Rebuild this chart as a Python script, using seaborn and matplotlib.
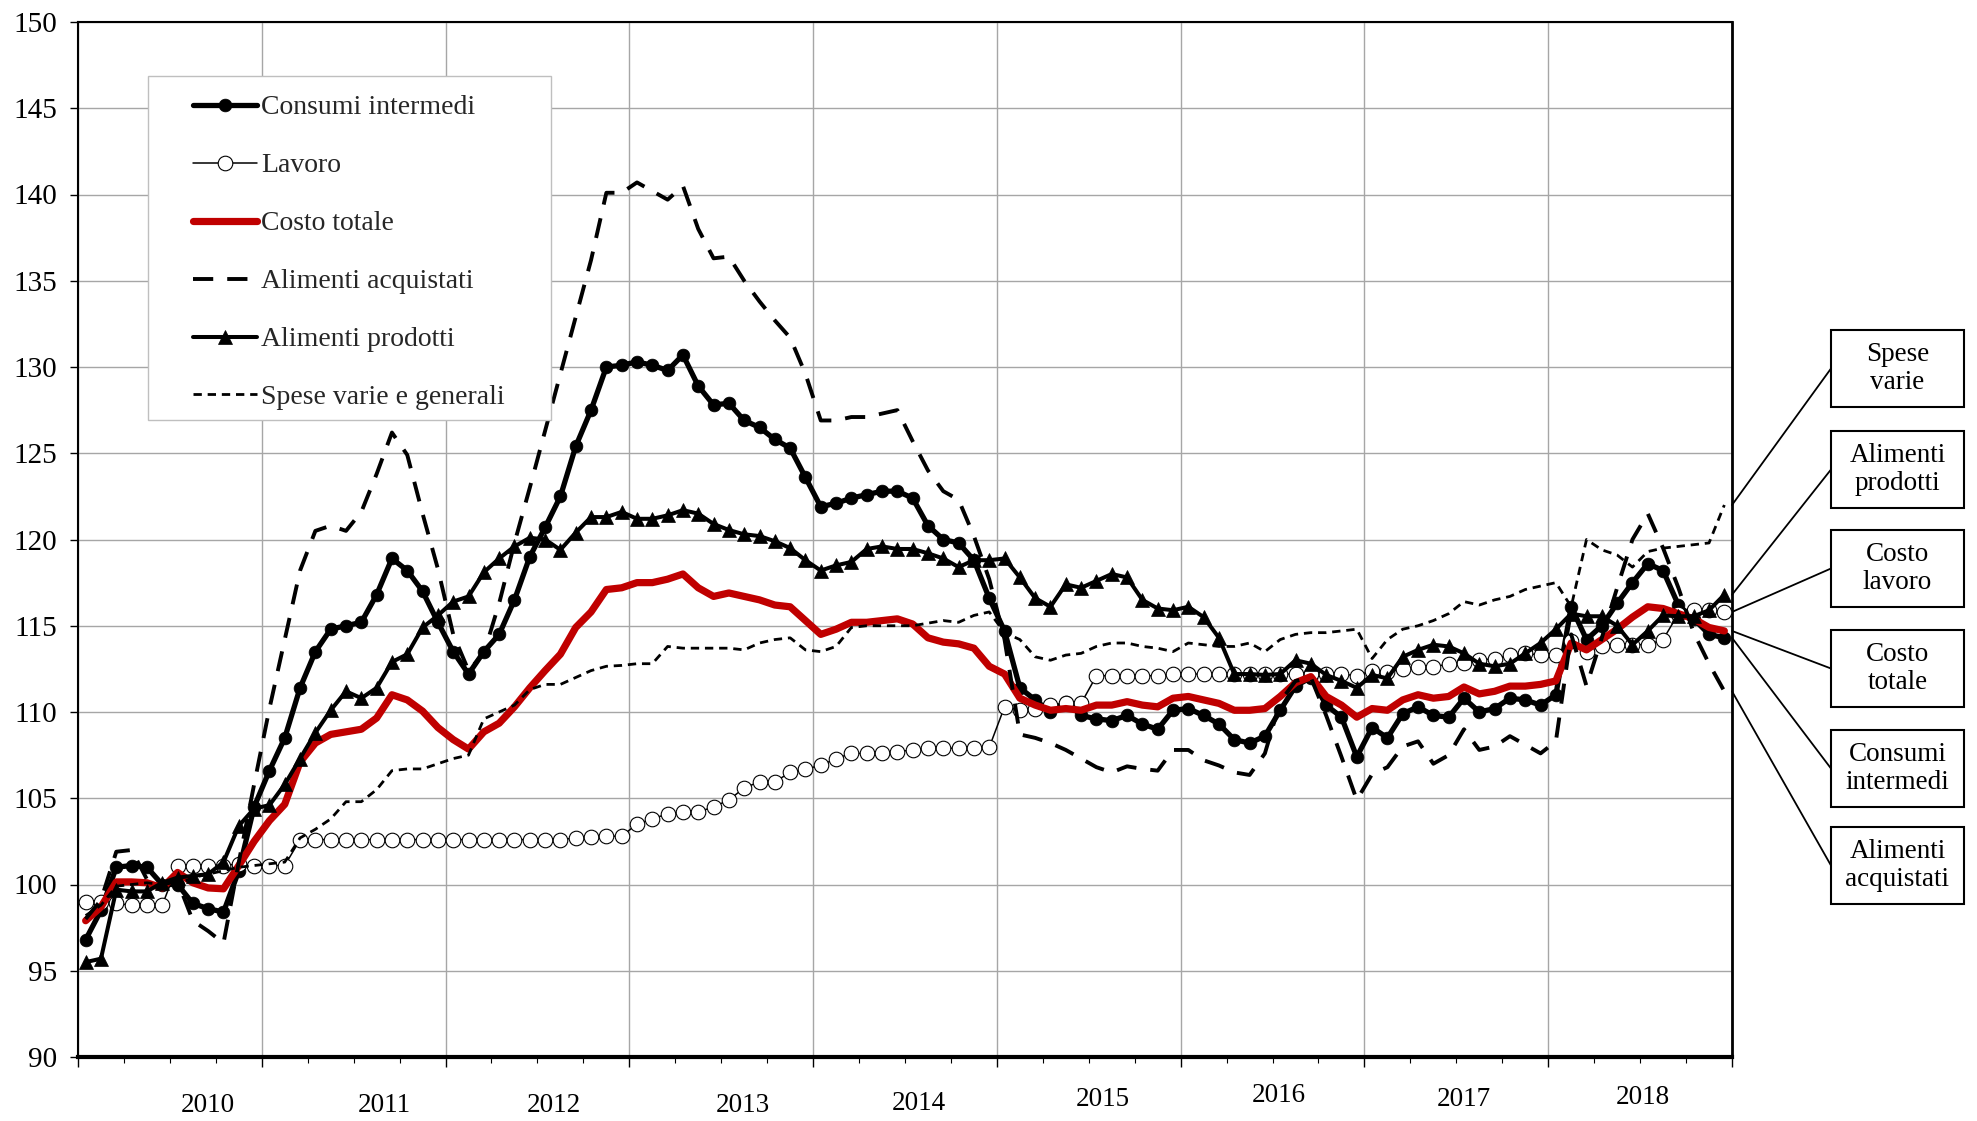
import numpy as np
import pandas as pd
import matplotlib
matplotlib.use("Agg")
import matplotlib.pyplot as plt
from matplotlib.patches import Rectangle
import seaborn as sns

# =========================
# DATA (indici mensili, gen 2010 - dic 2018)
# =========================
years = [2010, 2011, 2012, 2013, 2014, 2015, 2016, 2017, 2018]
n_months = 12 * len(years)
months = np.arange(n_months)

consumi_intermedi = [
    96.8, 98.5, 101.0, 101.1, 101.0, 100.0, 100.0, 98.9, 98.6, 98.4, 100.8, 104.5,
    106.6, 108.5, 111.4, 113.5, 114.8, 115.0, 115.2, 116.8, 118.9, 118.2, 117.0, 115.2,
    113.5, 112.2, 113.5, 114.5, 116.5, 119.0, 120.7, 122.5, 125.4, 127.5, 130.0, 130.1,
    130.3, 130.1, 129.8, 130.7, 128.9, 127.8, 127.9, 126.9, 126.5, 125.8, 125.3, 123.6,
    121.9, 122.1, 122.4, 122.6, 122.8, 122.8, 122.4, 120.8, 120.0, 119.8, 118.8, 116.6,
    114.7, 111.4, 110.7, 110.0, 110.6, 109.8, 109.6, 109.5, 109.8, 109.3, 109.0, 110.1,
    110.2, 109.8, 109.3, 108.4, 108.2, 108.6, 110.1, 111.5, 112.0, 110.4, 109.7, 107.4,
    109.1, 108.5, 109.9, 110.3, 109.8, 109.7, 110.8, 110.0, 110.2, 110.8, 110.7, 110.4,
    111.0, 116.1, 114.2, 115.0, 116.3, 117.5, 118.6, 118.2, 116.2, 115.4, 114.5, 114.3,
]
lavoro = [
    99.0, 99.0, 98.9, 98.8, 98.8, 98.8, 101.1, 101.1, 101.1, 101.1, 101.2, 101.1,
    101.1, 101.1, 102.6, 102.6, 102.6, 102.6, 102.6, 102.6, 102.6, 102.6, 102.6, 102.6,
    102.6, 102.6, 102.6, 102.6, 102.6, 102.6, 102.6, 102.6, 102.7, 102.75, 102.8, 102.8,
    103.5, 103.8, 104.1, 104.2, 104.2, 104.5, 104.9, 105.6, 105.95, 105.95, 106.5, 106.7,
    106.9, 107.3, 107.6, 107.6, 107.6, 107.7, 107.8, 107.9, 107.9, 107.9, 107.9, 107.95,
    110.3, 110.1, 110.2, 110.4, 110.5, 110.5, 112.1, 112.1, 112.1, 112.1, 112.1, 112.2,
    112.2, 112.2, 112.2, 112.2, 112.2, 112.2, 112.2, 112.2, 112.2, 112.2, 112.2, 112.1,
    112.4, 112.3, 112.5, 112.6, 112.6, 112.8, 112.85, 113.0, 113.1, 113.3, 113.4, 113.3,
    113.3, 114.1, 113.5, 113.8, 113.9, 113.9, 113.9, 114.2, 115.7, 115.9, 115.9, 115.8,
]
costo_totale = [
    97.9, 98.7, 100.15, 100.15, 100.1, 99.8, 100.7, 100.1, 99.8, 99.75, 101.1, 102.5,
    103.7, 104.65, 107.1, 108.2, 108.7, 108.85, 109.0, 109.65, 111.0, 110.7, 110.05, 109.1,
    108.4, 107.85, 108.85, 109.35, 110.3, 111.4, 112.4, 113.35, 114.9, 115.8, 117.1, 117.2,
    117.5, 117.5, 117.7, 118.0, 117.2, 116.7, 116.9, 116.7, 116.5, 116.2, 116.1, 115.3,
    114.5, 114.8, 115.2, 115.2, 115.3, 115.4, 115.1, 114.3, 114.05, 113.95, 113.7, 112.65,
    112.2, 110.8, 110.4, 110.1, 110.2, 110.1, 110.4, 110.4, 110.6, 110.4, 110.3, 110.8,
    110.9, 110.7, 110.5, 110.1, 110.1, 110.2, 110.9, 111.7, 112.05, 110.9, 110.4, 109.7,
    110.2, 110.1, 110.7, 111.0, 110.8, 110.9, 111.45, 111.05, 111.2, 111.5, 111.5, 111.6,
    111.8, 114.0, 113.6, 114.2, 114.8, 115.5, 116.1, 116.0, 115.7, 115.4, 114.9, 114.7,
]
alimenti_acquistati = [
    98.0, 99.1, 101.9, 102.0, 100.3, 100.0, 100.2, 97.9, 97.3, 96.6, 101.3, 105.8,
    110.2, 114.2, 118.2, 120.5, 120.8, 120.5, 121.6, 123.8, 126.2, 124.9, 121.5, 118.3,
    114.5, 112.4, 113.4, 116.3, 119.8, 123.0, 126.3, 129.6, 132.9, 136.2, 140.1, 140.1,
    140.7, 140.2, 139.7, 140.5, 138.0, 136.3, 136.4, 135.0, 133.8, 132.7, 131.7, 129.6,
    126.9, 126.9, 127.1, 127.1, 127.3, 127.5, 125.7, 124.0, 122.8, 122.3, 120.2, 117.7,
    114.2, 108.7, 108.5, 108.2, 107.8, 107.3, 106.8, 106.5, 106.85, 106.7, 106.6, 107.8,
    107.8, 107.2, 106.9, 106.5, 106.35, 107.6, 110.6, 111.8, 112.0, 109.8, 107.4, 104.9,
    106.4, 106.8, 108.0, 108.3, 107.0, 107.5, 109.0, 107.8, 108.0, 108.6, 108.1, 107.6,
    108.3, 114.5, 111.5, 114.3, 117.2, 120.0, 121.5, 119.5, 117.2, 114.6, 112.8, 111.2,
]
alimenti_prodotti = [
    95.5, 95.7, 99.7, 99.6, 99.6, 100.1, 100.4, 100.5, 100.6, 101.3, 103.4, 104.4,
    104.6, 105.8, 107.3, 108.8, 110.1, 111.2, 110.8, 111.4, 112.9, 113.35, 114.9, 115.6,
    116.4, 116.7, 118.1, 118.9, 119.6, 120.1, 120.0, 119.4, 120.4, 121.3, 121.3, 121.6,
    121.2, 121.2, 121.4, 121.7, 121.5, 120.9, 120.55, 120.3, 120.2, 119.9, 119.5, 118.8,
    118.2, 118.5, 118.7, 119.45, 119.6, 119.45, 119.45, 119.2, 118.9, 118.4, 118.8, 118.8,
    118.9, 117.8, 116.6, 116.1, 117.4, 117.2, 117.6, 118.0, 117.8, 116.5, 116.0, 115.9,
    116.1, 115.5, 114.3, 112.2, 112.2, 112.15, 112.2, 113.0, 112.8, 112.15, 111.8, 111.4,
    112.15, 111.95, 113.2, 113.6, 113.9, 113.8, 113.4, 112.8, 112.65, 112.8, 113.4, 114.0,
    114.8, 115.7, 115.55, 115.55, 115.0, 113.9, 114.7, 115.6, 115.55, 115.55, 115.9, 116.8,
]
spese_varie = [
    98.2, 98.8, 99.9, 100.0, 100.1, 100.0, 100.0, 100.4, 100.6, 100.8, 101.0, 101.1,
    101.2, 101.3, 102.7, 103.2, 103.8, 104.8, 104.8, 105.5, 106.6, 106.7, 106.7, 107.0,
    107.3, 107.5, 109.6, 110.0, 110.4, 111.3, 111.6, 111.6, 112.0, 112.4, 112.65, 112.7,
    112.8, 112.8, 113.8, 113.7, 113.7, 113.7, 113.7, 113.6, 114.0, 114.2, 114.3, 113.6,
    113.5, 113.8, 114.9, 115.0, 115.0, 115.0, 115.0, 115.15, 115.3, 115.2, 115.6, 115.8,
    114.6, 114.2, 113.2, 113.0, 113.3, 113.4, 113.8, 114.0, 114.0, 113.8, 113.7, 113.5,
    114.0, 113.9, 113.8, 113.8, 114.0, 113.5, 114.2, 114.5, 114.6, 114.6, 114.7, 114.8,
    113.1, 114.2, 114.8, 115.0, 115.3, 115.7, 116.4, 116.2, 116.5, 116.7, 117.1, 117.3,
    117.5, 116.1, 120.0, 119.4, 119.1, 118.4, 119.3, 119.5, 119.6, 119.7, 119.8, 122.0,
]

series_names = ["Consumi intermedi", "Lavoro", "Costo totale",
                "Alimenti acquistati", "Alimenti prodotti", "Spese varie e generali"]
series_values = [consumi_intermedi, lavoro, costo_totale,
                 alimenti_acquistati, alimenti_prodotti, spese_varie]

right_labels = ["Spese\nvarie", "Alimenti\nprodotti", "Costo\nlavoro",
                "Costo\ntotale", "Consumi\nintermedi", "Alimenti\nacquistati"]
right_series = [spese_varie, alimenti_prodotti, lavoro,
                costo_totale, consumi_intermedi, alimenti_acquistati]

# =========================
# CONFIG (layout in pixel)
# =========================
W, H = 1977, 1121
AX_L, AX_R, AX_T, AX_B = 78, 1732, 22, 1057
GRID = "#A6A6A6"
RED = "#C00000"

# posizione etichette anno (indice mese) e quota in pixel
year_label_x = [8.0, 19.5, 30.6, 42.9, 54.4, 66.4, 77.9, 90.0, 101.7]
year_label_y = [1105, 1105, 1105, 1105, 1103, 1100, 1096, 1100, 1098]

box_tops = [330, 431, 530, 630, 730, 827]
BOX_L, BOX_W, BOX_H = 1831, 133, 77


def fx(px):
    return px / W


def fy(py):
    return 1 - py / H


sns.set_theme(style="white")
plt.rcParams["font.family"] = ["Liberation Serif", "DejaVu Serif"]

df = pd.DataFrame({"mese": months})
for name, vals in zip(series_names, series_values):
    df[name] = vals

styles = {
    "Consumi intermedi": dict(color="black", linewidth=3.8, marker="o", ms=9.2,
                              mfc="black", mec="black", mew=0.5),
    "Lavoro": dict(color="black", linewidth=1.1, marker="o", ms=10.5,
                   mfc="white", mec="black", mew=0.8),
    "Costo totale": dict(color=RED, linewidth=5.2),
    "Alimenti acquistati": dict(color="black", linewidth=2.8, linestyle=(0, (5.2, 3.6))),
    "Alimenti prodotti": dict(color="black", linewidth=2.9, marker="^", ms=10,
                              mfc="black", mec="black", mew=0.5),
    "Spese varie e generali": dict(color="black", linewidth=2.0, linestyle=(0, (3, 2.1))),
}

fig = plt.figure(figsize=(W / 100, H / 100), dpi=100)
ax = fig.add_axes([fx(AX_L), fy(AX_B), fx(AX_R) - fx(AX_L), fy(AX_T) - fy(AX_B)])

for z, name in enumerate(series_names):
    sns.lineplot(data=df, x="mese", y=name, ax=ax, label=name, errorbar=None,
                 zorder=3 + z, **styles[name])

ax.set_xlabel("")
ax.set_ylabel("")
ax.set_xlim(-0.5, n_months - 0.5)
ax.set_ylim(90, 150)
ax.set_yticks(np.arange(90, 151, 5))
ax.set_xticks(np.arange(-0.5, n_months, 12))
ax.set_xticks(np.arange(-0.5, n_months, 3), minor=True)
ax.set_xticklabels([])
ax.grid(True, which="major", color=GRID, linewidth=1.0)
ax.set_axisbelow(True)

ax.tick_params(axis="y", which="major", left=True, length=6, width=1.0,
               labelsize=21, pad=9, colors="black", direction="out")
ax.tick_params(axis="x", which="major", bottom=True, length=7, width=1.0,
               direction="out", colors="black")
ax.tick_params(axis="x", which="minor", bottom=True, length=4, width=0.8,
               direction="out", colors="black")

for side, lw in [("left", 1.5), ("bottom", 3.0), ("top", 1.5), ("right", 2.0)]:
    ax.spines[side].set_visible(True)
    ax.spines[side].set_color("black")
    ax.spines[side].set_linewidth(lw)

# etichette anni
xtr = ax.get_xaxis_transform()
for yr, xpos, ypx in zip(years, year_label_x, year_label_y):
    ax.text(xpos, -(ypx - AX_B) / (AX_B - AX_T), str(yr), transform=xtr,
            ha="center", va="center", fontsize=19.5, color="black")

# legenda con riquadro
ax.add_patch(Rectangle((fx(148), fy(420)), fx(551) - fx(148), fy(76) - fy(420),
                       transform=fig.transFigure, facecolor="white",
                       edgecolor="#BFBFBF", linewidth=1.0, zorder=20))
handles, labels = ax.get_legend_handles_labels()
leg = ax.legend(handles, labels, loc="upper left",
                bbox_to_anchor=(fx(193), fy(95)), bbox_transform=fig.transFigure,
                frameon=False, fontsize=20, handlelength=2.3, handletextpad=0.15,
                labelspacing=1.17, borderpad=0, borderaxespad=0)
leg.set_zorder(21)

# riquadri a destra con linee di richiamo
for lab, vals, top in zip(right_labels, right_series, box_tops):
    fig.add_artist(Rectangle((fx(BOX_L), fy(top + BOX_H)), BOX_W / W, BOX_H / H,
                             transform=fig.transFigure, facecolor="white",
                             edgecolor="black", linewidth=1.5))
    fig.text(fx(BOX_L + BOX_W / 2), fy(top + BOX_H / 2), lab, ha="center",
             va="center", fontsize=19.5, linespacing=1.15, color="black")
    ax.annotate("", xy=(n_months - 0.5, vals[-1]), xycoords="data",
                xytext=(fx(BOX_L), fy(top + BOX_H / 2)), textcoords="figure fraction",
                arrowprops=dict(arrowstyle="-", color="black", lw=1.3,
                                shrinkA=0, shrinkB=0),
                annotation_clip=False)

fig.savefig("out.png", dpi=100)
plt.close(fig)
